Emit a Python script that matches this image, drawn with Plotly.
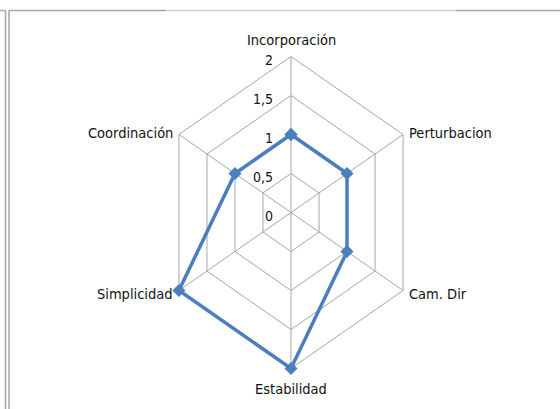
import math
import plotly.graph_objects as go

# Radar chart values
categories = ["Incorporación", "Perturbacion", "Cam. Dir", "Estabilidad", "Simplicidad", "Coordinación"]
values = [1, 1, 1, 2, 2, 1]
tick_values = [0, 0.5, 1, 1.5, 2]
tick_labels = ["0", "0,5", "1", "1,5", "2"]

# spoke directions, clockwise from the top
n = len(categories)
angles = [math.pi / 2 - 2 * math.pi * i / n for i in range(n)]


def to_xy(r, a):
    return r * math.cos(a), r * math.sin(a)


GRID = "#A6A6A6"
LINE = "#4A7EBF"
TEXT = "#111111"
FONT = "Liberation Sans Narrow, Arial Narrow, DejaVu Sans Condensed, sans-serif"

fig = go.Figure()

# hexagonal grid rings
for tv in tick_values[1:]:
    xs, ys = [], []
    for a in angles + angles[:1]:
        x, y = to_xy(tv, a)
        xs.append(x)
        ys.append(y)
    fig.add_trace(go.Scatter(x=xs, y=ys, mode="lines", line=dict(color=GRID, width=1),
                             hoverinfo="skip", showlegend=False))

# spokes
rmax = tick_values[-1]
for a in angles:
    x, y = to_xy(rmax, a)
    fig.add_trace(go.Scatter(x=[0, x], y=[0, y], mode="lines", line=dict(color=GRID, width=1),
                             hoverinfo="skip", showlegend=False))

# data series
sx, sy = [], []
for v, a in zip(values + values[:1], angles + angles[:1]):
    x, y = to_xy(v, a)
    sx.append(x)
    sy.append(y)
fig.add_trace(go.Scatter(x=sx, y=sy, mode="lines+markers",
                         line=dict(color=LINE, width=3.5),
                         marker=dict(symbol="diamond", size=10, color=LINE),
                         showlegend=False))

# radial tick labels
for tv, tl in zip(tick_values, tick_labels):
    fig.add_annotation(x=0, y=tv, text=tl, showarrow=False, xanchor="right", yanchor="middle",
                       xshift=-16, yshift=-3, font=dict(family=FONT, size=14, color=TEXT))

# category labels
for c, a in zip(categories, angles):
    x, y = to_xy(rmax, a)
    cx = math.cos(a)
    if abs(cx) < 1e-6:
        xa = "center"
        ya = "bottom" if y > 0 else "top"
        ys = 7 if y > 0 else -10
        xs_ = 0
    else:
        xa = "left" if cx > 0 else "right"
        ya = "middle"
        ys = 2 if y > 0 else -3
        xs_ = 4 if cx > 0 else -4
    fig.add_annotation(x=x, y=y, text=c, showarrow=False, xanchor=xa, yanchor=ya,
                       xshift=xs_, yshift=ys, font=dict(family=FONT, size=14.5, color=TEXT))

# frame lines around the chart area
W, H = 560, 409
frame = [
    dict(x0=0, y0=10.5, x1=5.5, y1=10.5, color=GRID),
    dict(x0=5.5, y0=10.5, x1=5.5, y1=H, color=GRID),
    dict(x0=9, y0=10.5, x1=9, y1=H, color=GRID),
    dict(x0=9, y0=10.5, x1=166, y1=10.5, color=GRID),
    dict(x0=166, y0=10.5, x1=456, y1=10.5, color="#D0D0D0"),
    dict(x0=456, y0=10.5, x1=W, y1=10.5, color=GRID),
]
for f in frame:
    fig.add_shape(type="line", xref="paper", yref="paper",
                  x0=f["x0"] / W, x1=f["x1"] / W, y0=1 - f["y0"] / H, y1=1 - f["y1"] / H,
                  line=dict(color=f["color"], width=1.5))

# anisotropic axes: 64.7 px per unit horizontally, 78 px per unit vertically
cx_px, cy_px = 291, 212.5
kx, ky = 64.7, 78.0
fig.update_xaxes(range=[-cx_px / kx, (W - cx_px) / kx], visible=False, fixedrange=True)
fig.update_yaxes(range=[-(H - cy_px) / ky, cy_px / ky], visible=False, fixedrange=True)

fig.update_layout(width=W, height=H, margin=dict(l=0, r=0, t=0, b=0),
                  paper_bgcolor="white", plot_bgcolor="white")

fig.write_html("out.html")
